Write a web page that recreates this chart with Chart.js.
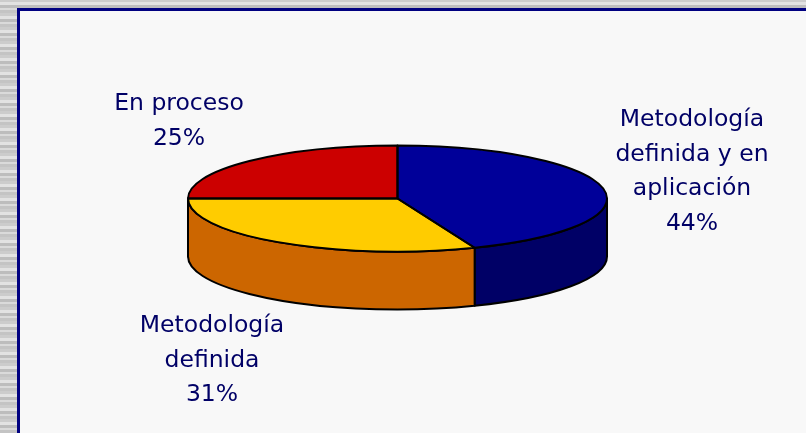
<!DOCTYPE html>
<html>
<head>
<meta charset="utf-8">
<script src="https://cdn.jsdelivr.net/npm/chart.js@4.4.1/dist/chart.umd.min.js"></script>
<style>
  html, body { margin: 0; padding: 0; width: 806px; height: 433px; overflow: hidden; }
  body {
    background:
      repeating-linear-gradient(0deg, #c4c4c4 0 3px, #dadada 3px 5px, #bdbdbd 5px 8px, #e2e2e2 8px 11px, #cccccc 11px 14px);
  }
  #frame {
    position: absolute; left: 17px; top: 8px; width: 900px; height: 500px;
    background: #f8f8f8; border-left: 3px solid #000080; border-top: 3px solid #000080;
  }
  #c { position: absolute; left: 0; top: 0; }
</style>
</head>
<body>
<div id="frame"></div>
<canvas id="c" width="806" height="433"></canvas>
<script>
// ---- data ----
const categories = ["Metodología definida y en aplicación", "Metodología definida", "En proceso"];
const labelLines = [["Metodología", "definida y en", "aplicación"], ["Metodología", "definida"], ["En proceso"]];
const values = [44, 31, 25];
const topColors = ["#000099", "#ffcc00", "#cc0000"];
const sideColors = ["#000066", "#cc6600", "#990000"];

// ---- layout of the 3D projection ----
const ELL = { cx: 397.5, cy: 198.5, rx: 209.5, ry: 53, depth: 58 };
const LABEL_POS = [ { x: 692, y: 126 }, { x: 212, y: 332 }, { x: 179, y: 110 } ];
const LINE_H = 34.5;

function applyEllipse(ctx, arc, dy) {
  ctx.translate(ELL.cx, ELL.cy + dy);
  ctx.scale(ELL.rx / arc.outerRadius, ELL.ry / arc.outerRadius);
  ctx.translate(-arc.x, -arc.y);
}

const pie3d = {
  id: 'pie3d',
  beforeDatasetsDraw(chart) {
    const ctx = chart.ctx;
    const meta = chart.getDatasetMeta(0);
    // sides (front half only: angles 0..PI)
    meta.data.forEach((arc, i) => {
      const a1 = Math.max(arc.startAngle, 0);
      const a2 = Math.min(arc.endAngle, Math.PI);
      if (a2 <= a1) return;
      ctx.beginPath();
      ctx.save(); applyEllipse(ctx, arc, 0); ctx.arc(arc.x, arc.y, arc.outerRadius, a1, a2); ctx.restore();
      ctx.save(); applyEllipse(ctx, arc, ELL.depth); ctx.arc(arc.x, arc.y, arc.outerRadius, a2, a1, true); ctx.restore();
      ctx.closePath();
      ctx.fillStyle = sideColors[i];
      ctx.fill();
      ctx.lineWidth = 2; ctx.lineJoin = 'round'; ctx.strokeStyle = '#000';
      ctx.stroke();
    });
    // top faces drawn by Chart.js under the ellipse transform
    ctx.save();
    applyEllipse(ctx, meta.data[0], 0);
  },
  afterDatasetsDraw(chart) {
    const ctx = chart.ctx;
    ctx.restore();
    const meta = chart.getDatasetMeta(0);
    meta.data.forEach((arc) => {
      ctx.beginPath();
      ctx.save(); applyEllipse(ctx, arc, 0);
      ctx.moveTo(arc.x, arc.y);
      ctx.arc(arc.x, arc.y, arc.outerRadius, arc.startAngle, arc.endAngle);
      ctx.closePath();
      ctx.restore();
      ctx.lineWidth = 2; ctx.lineJoin = 'round'; ctx.strokeStyle = '#000';
      ctx.stroke();
    });
    // labels
    const total = values.reduce((a, b) => a + b, 0);
    ctx.save();
    ctx.font = '23.5px "DejaVu Sans", Verdana, sans-serif';
    ctx.fillStyle = '#000066';
    ctx.textAlign = 'center';
    ctx.textBaseline = 'alphabetic';
    labelLines.forEach((lines, i) => {
      const all = lines.concat([Math.round(values[i] / total * 100) + '%']);
      all.forEach((t, k) => ctx.fillText(t, LABEL_POS[i].x, LABEL_POS[i].y + k * LINE_H));
    });
    ctx.restore();
  }
};

new Chart(document.getElementById('c'), {
  type: 'pie',
  data: {
    labels: categories,
    datasets: [{ data: values, backgroundColor: topColors, borderWidth: 0 }]
  },
  options: {
    responsive: false,
    animation: false,
    events: [],
    layout: { padding: 10 },
    plugins: { legend: { display: false }, tooltip: { enabled: false } }
  },
  plugins: [pie3d]
});
</script>
</body>
</html>
